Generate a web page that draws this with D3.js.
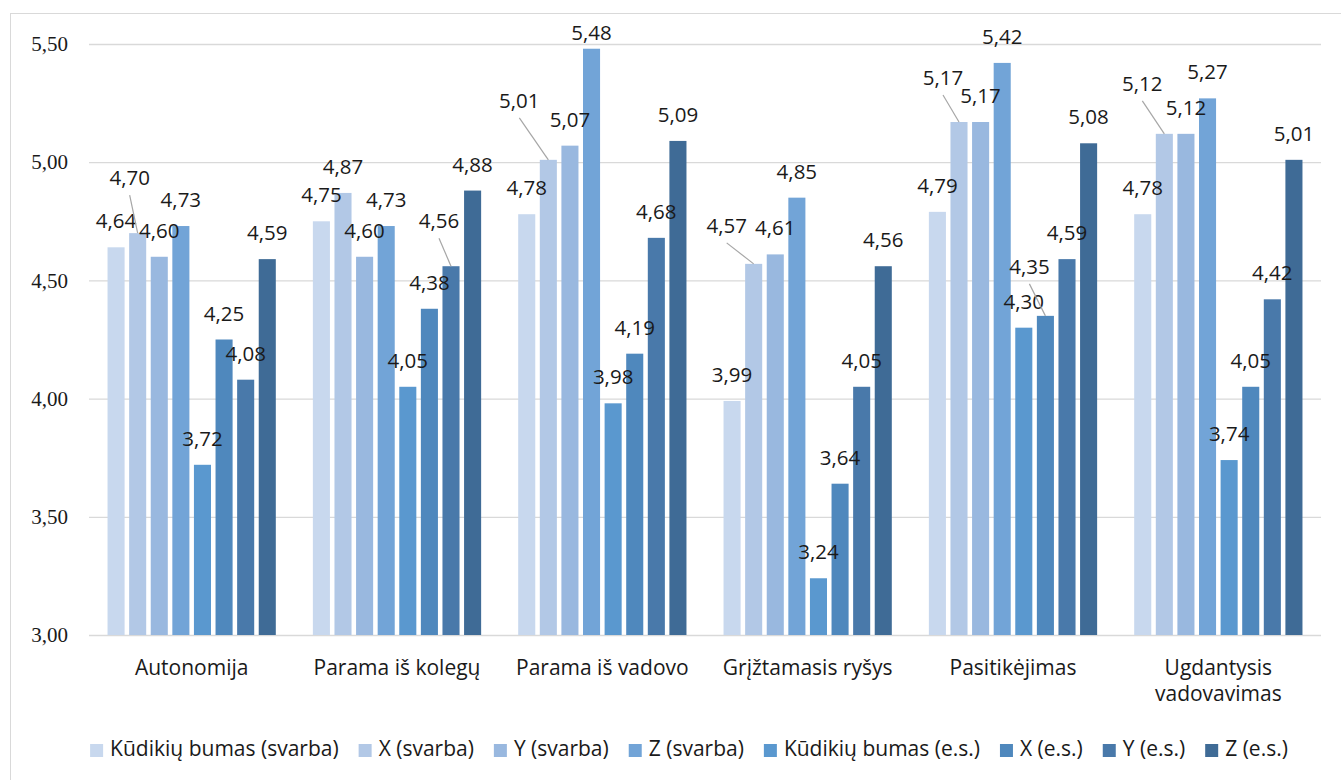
<!DOCTYPE html>
<html>
<head>
<meta charset="utf-8">
<script src="https://cdn.jsdelivr.net/npm/d3@7"></script>
<style>
  body { margin: 0; background: #fff; }
  svg text { font-family: "Open Sans", sans-serif; fill: #1a1a1a; }
  svg .ytick text { font-family: "Liberation Serif", "Times New Roman", serif; }
</style>
</head>
<body>
<svg id="chart"></svg>
<script>
// categories and series
const categories = ["Autonomija", "Parama iš kolegų", "Parama iš vadovo", "Grįžtamasis ryšys", "Pasitikėjimas", "Ugdantysis vadovavimas"];
const seriesNames = ["Kūdikių bumas (svarba)", "X (svarba)", "Y (svarba)", "Z (svarba)", "Kūdikių bumas (e.s.)", "X (e.s.)", "Y (e.s.)", "Z (e.s.)"];

// values per series, in category order
const kudikiuSvarba = [4.64, 4.75, 4.78, 3.99, 4.79, 4.78];
const xSvarba = [4.70, 4.87, 5.01, 4.57, 5.17, 5.12];
const ySvarba = [4.60, 4.60, 5.07, 4.61, 5.17, 5.12];
const zSvarba = [4.73, 4.73, 5.48, 4.85, 5.42, 5.27];
const kudikiuES = [3.72, 4.05, 3.98, 3.24, 4.30, 3.74];
const xES = [4.25, 4.38, 4.19, 3.64, 4.35, 4.05];
const yES = [4.08, 4.56, 4.68, 4.05, 4.59, 4.42];
const zES = [4.59, 4.88, 5.09, 4.56, 5.08, 5.01];

const yTicks = [3.0, 3.5, 4.0, 4.5, 5.0, 5.5];

const seriesValues = [kudikiuSvarba, xSvarba, ySvarba, zSvarba, kudikiuES, xES, yES, zES];
const colors = ["#c8d8ee", "#b2c8e6", "#99b8df", "#72a4d7", "#5a98cf", "#4f88bd", "#4979aa", "#3f6b96"];

// labels that were moved off their bar (series index, category index, shift, leader line)
const labelMoves = [
  {s: 1, c: 0, dx: -8, dy: -29, leader: true},
  {s: 6, c: 1, dx: -12, dy: -19, leader: true},
  {s: 1, c: 2, dx: -29, dy: -33, leader: true},
  {s: 3, c: 2, dx: 0, dy: 10, leader: false},
  {s: 1, c: 3, dx: -27, dy: -12, leader: true},
  {s: 1, c: 4, dx: -16, dy: -18, leader: true},
  {s: 5, c: 4, dx: -16, dy: -23, leader: true},
  {s: 1, c: 5, dx: -22, dy: -24, leader: true}
];

const W = 1341, H = 780;
const plot = {left: 89, right: 1321, top: 44, bottom: 635};

const svg = d3.select("#chart").attr("width", W).attr("height", H);

// outer chart frame
svg.append("rect")
  .attr("x", 10.5).attr("y", 13.5)
  .attr("width", 1345).attr("height", 800)
  .attr("fill", "none").attr("stroke", "#d9d9d9").attr("stroke-width", 1);

const locale = d3.formatLocale({decimal: ",", thousands: " ", grouping: [3], currency: ["", ""]});
const fmt = locale.format(".2f");

// scales
const x0 = d3.scaleBand().domain(categories).range([plot.left, plot.right]).paddingInner(0).paddingOuter(0);
const x1 = d3.scaleBand().domain(d3.range(seriesNames.length)).range([0, x0.bandwidth()])
  .paddingInner(0.21).paddingOuter(0.858);
const y = d3.scaleLinear().domain([3, 5.5]).range([plot.bottom, plot.top]);

// y axis with gridlines
const yAxis = d3.axisLeft(y).tickValues(yTicks).tickFormat(fmt)
  .tickSize(-(plot.right - plot.left)).tickPadding(21);
const gy = svg.append("g").attr("class", "ytick")
  .attr("transform", `translate(${plot.left},0)`).call(yAxis)
  .attr("font-family", null);
gy.select(".domain").remove();
gy.selectAll(".tick line").attr("stroke", "#d9d9d9").attr("stroke-width", 1.3);
gy.selectAll(".tick text")
  .style("font-size", "21px").attr("fill", "#262626");

// data table
const data = [];
categories.forEach((cat, c) => {
  seriesValues.forEach((vals, s) => {
    data.push({cat: cat, c: c, s: s, value: vals[c]});
  });
});

const groups = svg.append("g").selectAll("g")
  .data(categories)
  .join("g")
  .attr("transform", (d) => `translate(${x0(d)},0)`);

groups.selectAll("rect")
  .data((cat, c) => data.filter((d) => d.c === c))
  .join("rect")
  .attr("x", (d) => x1(d.s))
  .attr("y", (d) => y(d.value))
  .attr("width", x1.bandwidth())
  .attr("height", (d) => y(3) - y(d.value))
  .attr("fill", (d) => colors[d.s]);

// data labels
const labelLayer = svg.append("g");
data.forEach((d) => {
  const cx = x0(d.cat) + x1(d.s) + x1.bandwidth() / 2;
  const top = y(d.value);
  const move = labelMoves.find((m) => m.s === d.s && m.c === d.c);
  const lx = cx + (move ? move.dx : 0);
  const ly = top - 19 + (move ? move.dy : 0);
  if (move && move.leader) {
    labelLayer.append("line")
      .attr("x1", lx).attr("y1", ly + 10)
      .attr("x2", cx).attr("y2", top)
      .attr("stroke", "#a6a6a6").attr("stroke-width", 1.2);
  }
  labelLayer.append("text")
    .attr("x", lx).attr("y", ly)
    .attr("text-anchor", "middle")
    .style("font-size", "20.5px")
    .text(fmt(d.value));
});

// category labels, wrapped when wider than the band
const catLayer = svg.append("g");
categories.forEach((cat) => {
  const t = catLayer.append("text")
    .attr("x", x0(cat) + x0.bandwidth() / 2)
    .attr("y", 675)
    .attr("text-anchor", "middle")
    .style("font-size", "21px")
    .text(cat);
  if (t.node().getComputedTextLength() > x0.bandwidth() - 10) {
    const words = cat.split(" ");
    t.text(null);
    words.forEach((w, i) => {
      t.append("tspan")
        .attr("x", x0(cat) + x0.bandwidth() / 2)
        .attr("dy", i === 0 ? 0 : 26)
        .text(w);
    });
  }
});

// legend
const legend = svg.append("g");
let lx = 0;
seriesNames.forEach((name, i) => {
  const item = legend.append("g").attr("transform", `translate(${lx},0)`);
  item.append("rect")
    .attr("x", 0).attr("y", 744)
    .attr("width", 13).attr("height", 13)
    .attr("fill", colors[i]);
  const t = item.append("text")
    .attr("x", 20).attr("y", 756)
    .style("font-size", "21px")
    .text(name);
  lx += 20 + t.node().getComputedTextLength() + 20;
});
const legendWidth = lx - 20;
legend.attr("transform", `translate(${689 - legendWidth / 2},0)`);
</script>
</body>
</html>
